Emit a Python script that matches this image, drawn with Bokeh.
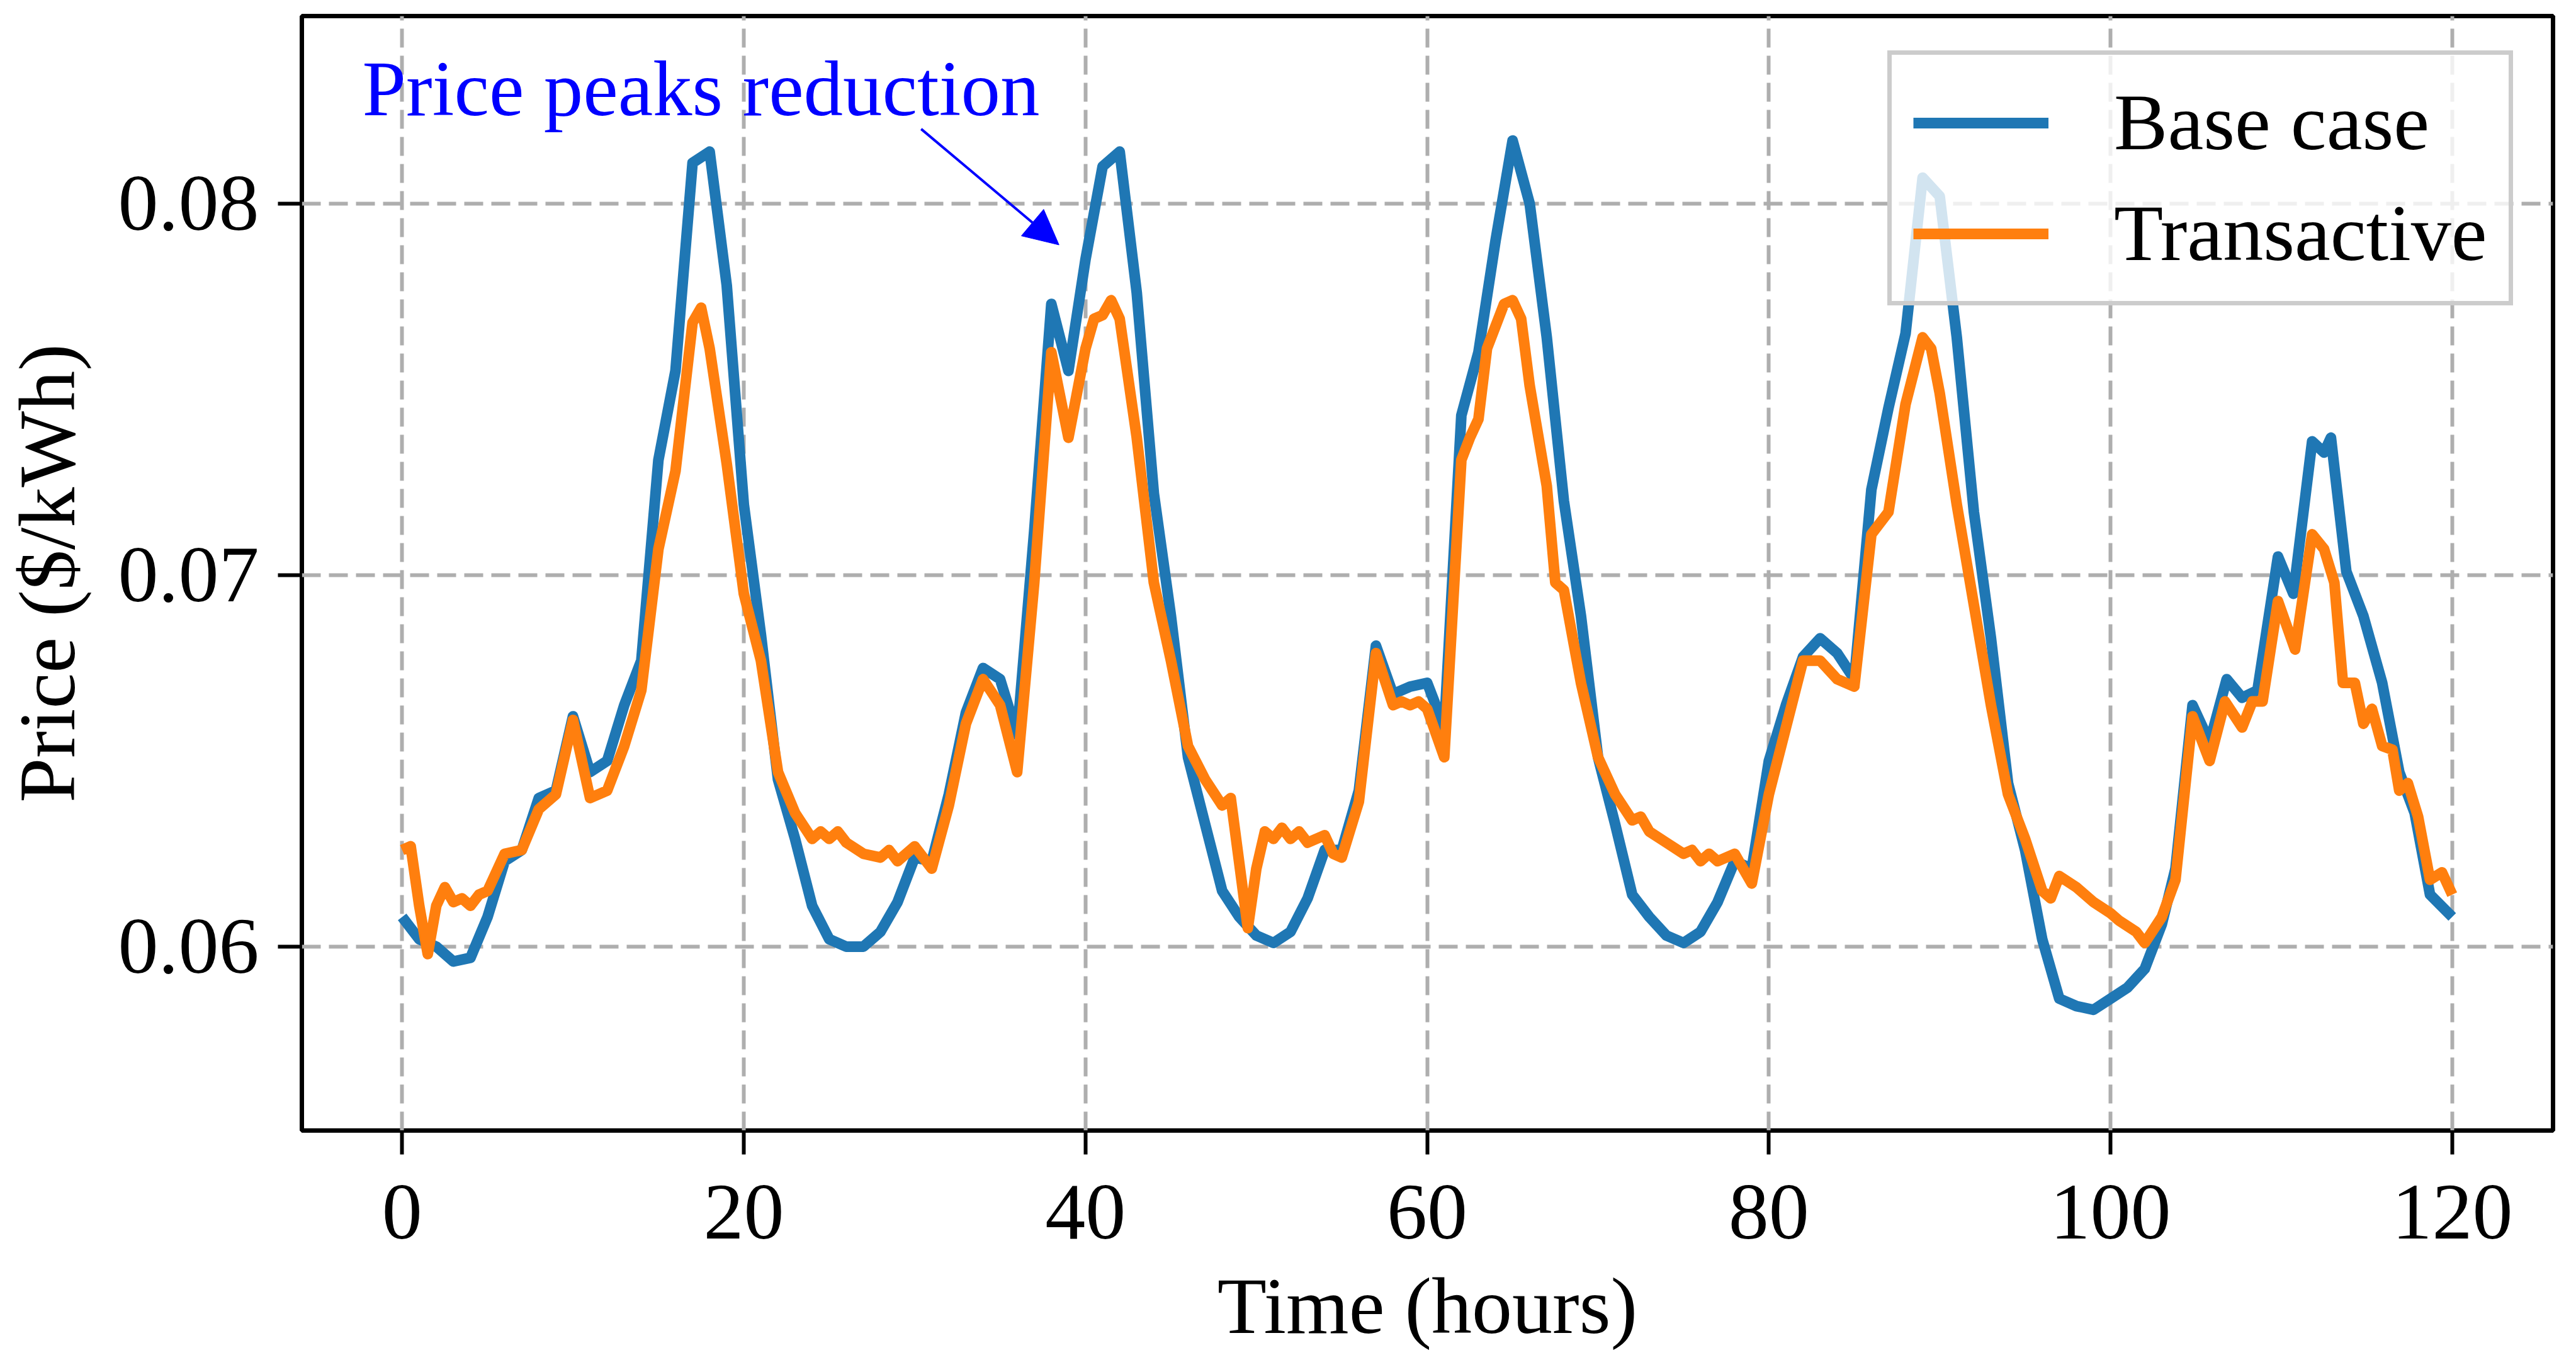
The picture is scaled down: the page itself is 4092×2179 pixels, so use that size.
from bokeh.plotting import figure
from bokeh.models import (Range1d, FixedTicker, PrintfTickFormatter, Legend, LegendItem,
                          Label, Arrow, NormalHead)
from bokeh.embed import file_html
from bokeh.resources import INLINE

# ---------------- data ----------------
base_hours = [0, 1, 2, 3, 4, 5, 6, 7, 8, 9, 10, 11, 12, 13, 14, 15, 16, 17, 18, 19,
              20, 21, 22, 23, 24, 25, 26, 27, 28, 29, 30, 31, 32, 33, 34, 35, 36, 37, 38, 39,
              40, 41, 42, 43, 44, 45, 46, 47, 48, 49, 50, 51, 52, 53, 54, 55, 56, 57, 58, 59,
              60, 61, 62, 63, 64, 65, 66, 67, 68, 69, 70, 71, 72, 73, 74, 75, 76, 77, 78, 79,
              80, 81, 82, 83, 84, 85, 86, 87, 88, 89, 90, 91, 92, 93, 94, 95, 96, 97, 98, 99,
              100, 101, 102, 103, 103.8, 104.8, 105.8, 106.8, 107.7, 108.6, 109.8, 110.7,
              111.8, 112.5, 112.9, 113.8, 114.8, 115.9, 116.9, 117.8, 118.7, 120]
base_price = [0.0608, 0.0602, 0.0600, 0.0596, 0.0597, 0.0608, 0.0623, 0.0626, 0.0640, 0.0642,
              0.0662, 0.0647, 0.0650, 0.0665, 0.0677, 0.0731, 0.0755, 0.0811, 0.0814, 0.0778,
              0.0719, 0.0684, 0.0645, 0.0629, 0.0611, 0.0602, 0.0600, 0.0600, 0.0604, 0.0612,
              0.0624, 0.0623, 0.0641, 0.0663, 0.0675, 0.0672, 0.0657, 0.0712, 0.0773, 0.0755,
              0.0785, 0.0810, 0.0814, 0.0776, 0.0722, 0.0689, 0.0651, 0.0633, 0.0615, 0.0608,
              0.0603, 0.0601, 0.0604, 0.0613, 0.0626, 0.0626, 0.0642, 0.0681, 0.0668, 0.0670,
              0.0671, 0.0659, 0.0743, 0.0760, 0.0790, 0.0817, 0.0800, 0.0764, 0.0720, 0.0689,
              0.0651, 0.0633, 0.0614, 0.0608, 0.0603, 0.0601, 0.0604, 0.0612, 0.0623, 0.0621,
              0.0650, 0.0665, 0.0678, 0.0683, 0.0679, 0.0672, 0.0723, 0.0745, 0.0765, 0.0807,
              0.0802, 0.0764, 0.0717, 0.0683, 0.0644, 0.0626, 0.0602, 0.0586, 0.0584, 0.0583,
              0.0586, 0.0589, 0.0594, 0.0606, 0.0621, 0.0665, 0.0655, 0.0672, 0.0667, 0.0669,
              0.0705, 0.0695, 0.0736, 0.0733, 0.0737, 0.0701, 0.0689, 0.0671, 0.0647, 0.0636,
              0.0614, 0.0608]

trans_hours = [0, 0.5, 1, 1.5, 2, 2.5, 3, 3.5, 4, 4.5, 5, 6, 7, 8, 9, 10, 11, 12, 13, 14,
               15, 16, 17, 17.5, 18, 19, 20, 21, 22, 23, 24, 24.5, 25, 25.5, 26, 27, 28, 28.5,
               29, 30, 31, 32, 33, 34, 35, 36, 37, 38, 39, 40, 40.5, 41, 41.5, 42, 43, 44,
               45, 46, 47, 48, 48.5, 49.5, 50, 50.5, 51, 51.5, 52, 52.5, 53, 54, 54.5, 55,
               56, 57, 58, 58.5, 59, 59.5, 60, 61, 62, 62.5, 63, 63.5, 64, 64.5, 65, 65.5,
               66, 67, 67.5, 68, 69, 70, 71, 72, 72.5, 73, 74, 75, 75.5, 76, 76.5, 77, 78,
               79, 80, 81, 82, 83, 84, 85, 86, 87, 88, 89, 89.5, 90, 91, 92, 93, 94, 95, 96,
               96.5, 97, 98, 99, 100, 100.5, 101.5, 102, 103, 103.8, 104.8, 105.8, 106.7,
               107.7, 108.3, 108.9, 109.8, 110.8, 111.8, 112.5, 113.1, 113.6, 114.3, 114.8,
               115.3, 115.9, 116.5, 116.9, 117.4, 118.0, 118.7, 119.4, 120]
trans_price = [0.0626, 0.0627, 0.0611, 0.0598, 0.0611, 0.0616, 0.0612, 0.0613, 0.0611, 0.0614,
               0.0615, 0.0625, 0.0626, 0.0637, 0.0641, 0.0661, 0.0640, 0.0642, 0.0654, 0.0669,
               0.0707, 0.0728, 0.0768, 0.0772, 0.0761, 0.0730, 0.0695, 0.0677, 0.0647, 0.0636,
               0.0629, 0.0631, 0.0629, 0.0631, 0.0628, 0.0625, 0.0624, 0.0626, 0.0623, 0.0627,
               0.0621, 0.0638, 0.0660, 0.0672, 0.0665, 0.0647, 0.0698, 0.0760, 0.0737, 0.0761,
               0.0769, 0.0770, 0.0774, 0.0769, 0.0737, 0.0698, 0.0677, 0.0654, 0.0645, 0.0638,
               0.0640, 0.0605, 0.0621, 0.0631, 0.0629, 0.0632, 0.0629, 0.0631, 0.0628, 0.0630,
               0.0625, 0.0624, 0.0639, 0.0679, 0.0665, 0.0666, 0.0665, 0.0666, 0.0664, 0.0651,
               0.0731, 0.0737, 0.0742, 0.0761, 0.0767, 0.0773, 0.0774, 0.0769, 0.0751, 0.0724,
               0.0698, 0.0696, 0.0671, 0.0651, 0.0641, 0.0634, 0.0635, 0.0631, 0.0628, 0.0625,
               0.0626, 0.0623, 0.0625, 0.0623, 0.0625, 0.0617, 0.0641, 0.0659, 0.0677, 0.0677,
               0.0672, 0.0670, 0.0711, 0.0717, 0.0746, 0.0764, 0.0761, 0.0749, 0.0719, 0.0692,
               0.0665, 0.0641, 0.0629, 0.0615, 0.0613, 0.0619, 0.0616, 0.0612, 0.0609, 0.0607,
               0.0604, 0.0601, 0.0608, 0.0618, 0.0662, 0.0650, 0.0666, 0.0659, 0.0666, 0.0666,
               0.0693, 0.0680, 0.0711, 0.0707, 0.0698, 0.0671, 0.0671, 0.0660, 0.0664, 0.0654,
               0.0653, 0.0642, 0.0644, 0.0635, 0.0618, 0.0620, 0.0614]

series_names = ["Base case", "Transactive"]
x_ticks = [0, 20, 40, 60, 80, 100, 120]
y_ticks = [0.06, 0.07, 0.08]
x_label = "Time (hours)"
y_label = "Price ($/kWh)"
note_text = "Price peaks reduction"

# ---------------- figure ----------------
FONT = "Liberation Serif"
FS = "128px"

p = figure(width=4076, height=2163, output_backend="svg", toolbar_location=None,
           x_range=Range1d(-5.87, 125.9), y_range=Range1d(0.05505, 0.08505),
           min_border_left=475, min_border_right=21, min_border_top=25, min_border_bottom=368)
p.title.visible = False

p.outline_line_color = "black"
p.outline_line_width = 7
p.background_fill_color = "white"
p.border_fill_color = "white"

for ax in (p.xaxis[0], p.yaxis[0]):
    ax.axis_line_color = None
    ax.major_tick_out = 38
    ax.major_tick_in = 0
    ax.major_tick_line_width = 6
    ax.major_tick_line_color = "black"
    ax.minor_tick_line_color = None
    ax.major_label_text_font = FONT
    ax.major_label_text_font_size = FS
    ax.major_label_text_color = "black"
    ax.axis_label_text_font = FONT
    ax.axis_label_text_font_size = FS
    ax.axis_label_text_font_style = "normal"
    ax.axis_label_text_color = "black"

p.xaxis[0].ticker = FixedTicker(ticks=x_ticks)
p.yaxis[0].ticker = FixedTicker(ticks=y_ticks)
p.yaxis[0].formatter = PrintfTickFormatter(format="%.2f")
p.xaxis[0].axis_label = x_label
p.yaxis[0].axis_label = y_label
p.xaxis[0].major_label_standoff = 49
p.yaxis[0].major_label_standoff = 30
p.xaxis[0].axis_label_standoff = 33
p.yaxis[0].axis_label_standoff = 39

for g in (p.xgrid[0], p.ygrid[0]):
    g.grid_line_color = "#aeaeae"
    g.grid_line_width = 6
    g.grid_line_dash = "30 13"
p.xgrid[0].ticker = FixedTicker(ticks=x_ticks)
p.ygrid[0].ticker = FixedTicker(ticks=y_ticks)

r_base = p.line(base_hours, base_price, line_color="#1f77b4", line_width=17, line_join="round")
r_trans = p.line(trans_hours, trans_price, line_color="#ff7f0e", line_width=17, line_join="round")

legend = Legend(items=[LegendItem(label=series_names[0], renderers=[r_base]),
                       LegendItem(label=series_names[1], renderers=[r_trans])],
                location=(2519, 1310), orientation="vertical",
                label_text_font=FONT, label_text_font_size=FS, label_text_color="black",
                glyph_width=215, glyph_height=140, label_height=140, label_standoff=104,
                spacing=29, padding=34, margin=0,
                border_line_color="#cccccc", border_line_width=7, border_line_alpha=1.0,
                background_fill_color="white", background_fill_alpha=0.8)
p.add_layout(legend, "center")

note = Label(x=-2.33, y=0.0831, text=note_text, text_font=FONT, text_font_size="125px",
             text_color="#0000ff", text_align="left", text_baseline="alphabetic")
p.add_layout(note)

arrow = Arrow(end=NormalHead(size=55, fill_color="#0000ff", line_color="#0000ff", line_width=1),
              x_start=30.38, y_start=0.08201, x_end=38.45, y_end=0.07889,
              line_color="#0000ff", line_width=4)
p.add_layout(arrow)

open("out.html", "w").write(file_html(p, INLINE))
